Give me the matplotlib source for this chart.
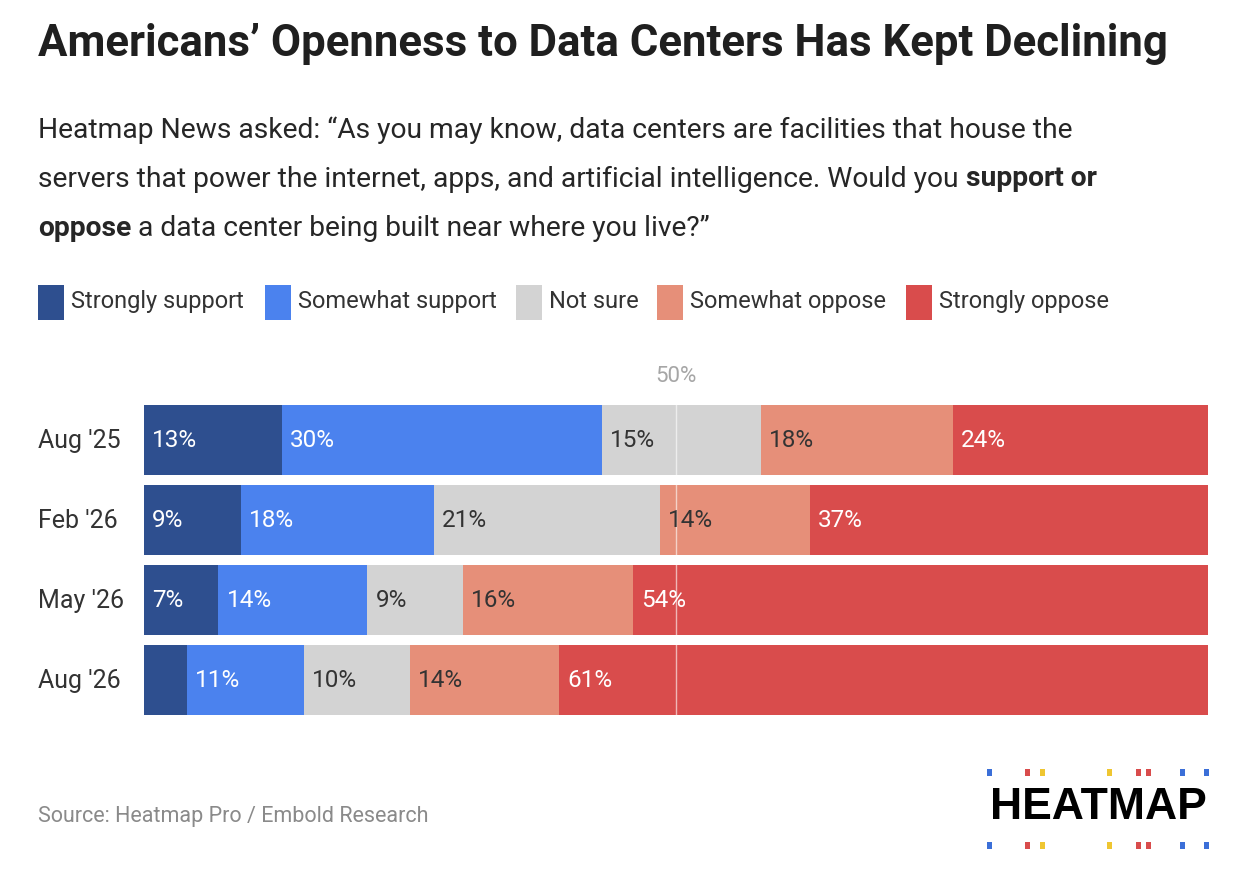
import numpy as np
import matplotlib
matplotlib.use("Agg")
import matplotlib.pyplot as plt
from matplotlib.patches import Rectangle

plt.rcParams['font.family'] = ['Roboto', 'DejaVu Sans']

# data
periods = ["Aug '25", "Feb '26", "May '26", "Aug '26"]
categories = ['Strongly support', 'Somewhat support', 'Not sure', 'Somewhat oppose', 'Strongly oppose']
strongly_support = [13, 9, 7, 4]
somewhat_support = [30, 18, 14, 11]
not_sure = [15, 21, 9, 10]
somewhat_oppose = [18, 14, 16, 14]
strongly_oppose = [24, 37, 54, 61]

colors = ['#2e4f8f', '#4b82ee', '#d3d3d3', '#e68f79', '#d94c4c']
label_colors = ['white', 'white', '#333333', '#333333', 'white']

W, H = 1252, 870
fig = plt.figure(figsize=(W / 100, H / 100), dpi=100)
fig.patch.set_facecolor('white')


def fx(px):
    return px / W


def fy(py):
    return 1 - py / H


# title + question
fig.text(fx(38), fy(44), 'Americans\u2019 Openness to Data Centers Has Kept Declining',
         fontsize=31.5, fontweight='bold', color='#1f1f1f', va='center', ha='left')

sub_size = 20.3
sub_color = '#262626'
lines = [
    [('Heatmap News asked: \u201cAs you may know, data centers are facilities that house the', 'normal')],
    [('servers that power the internet, apps, and artificial intelligence. Would you ', 'normal'),
     ('support or', 'bold')],
    [('oppose', 'bold'), (' a data center being built near where you live?\u201d', 'normal')],
]
line_y = [130, 179, 228]
renderer = fig.canvas.get_renderer()
for parts, ly in zip(lines, line_y):
    x = fx(38)
    for txt, wt in parts:
        t = fig.text(x, fy(ly), txt, fontsize=sub_size, fontweight=wt, color=sub_color,
                     va='center', ha='left')
        bb = t.get_window_extent(renderer=renderer)
        x += bb.width / W

# legend
leg_x = [38, 265, 516, 657, 906]
for lx, cat, c in zip(leg_x, categories, colors):
    fig.patches.append(Rectangle((fx(lx), fy(321)), fx(26), 35 / H, transform=fig.transFigure,
                                 facecolor=c, edgecolor='none'))
    fig.text(fx(lx + 33), fy(302), cat, fontsize=17, color='#333333', va='center', ha='left')

# bars
ax = fig.add_axes([fx(144), fy(721), fx(1208 - 144), 320 / H])
data = np.array([strongly_support, somewhat_support, not_sure, somewhat_oppose, strongly_oppose], dtype=float)
shares = data / data.sum(axis=0) * 100
y = np.arange(len(periods))
left = np.zeros(len(periods))
for i in range(len(categories)):
    ax.barh(y, shares[i], left=left, height=0.875, color=colors[i], edgecolor='none')
    for j in range(len(periods)):
        if data[i, j] >= 5:
            ax.text(left[j] + 0.75, y[j], f'{int(data[i, j])}%', color=label_colors[i],
                    fontsize=17.5, va='center', ha='left')
    left += shares[i]

ax.axvline(50, color='white', lw=1, alpha=0.6)
ax.text(50, -0.8, '50%', color='#a6a6a6', fontsize=16, ha='center', va='center')
ax.set_xlim(0, 100)
ax.set_ylim(3.5, -0.5)
ax.axis('off')
for j, p in enumerate(periods):
    ax.text(-10.0, y[j], p, fontsize=18, color='#333333', va='center', ha='left')

# source
fig.text(fx(38), fy(817), 'Source: Heatmap Pro / Embold Research', fontsize=15.5,
         color='#8a8a8a', va='center', ha='left')

# logo
fig.text(fx(1098), fy(808), 'HEATMAP', fontsize=32, fontweight='bold', color='black',
         va='center', ha='center', family=['Liberation Sans', 'DejaVu Sans'])
dot_x = [989, 1027, 1042, 1109, 1138, 1148, 1182, 1206]
dot_c = ['#3b6fd8', '#d94c4c', '#efc631', '#efc631', '#d94c4c', '#d94c4c', '#3b6fd8', '#3b6fd8']
for dy in (773, 846):
    for dx, dc in zip(dot_x, dot_c):
        fig.patches.append(Rectangle((fx(dx - 2.5), fy(dy + 3.5)), fx(5), 7 / H,
                                     transform=fig.transFigure, facecolor=dc, edgecolor='none'))

fig.savefig('out.png', dpi=100, facecolor='white')
